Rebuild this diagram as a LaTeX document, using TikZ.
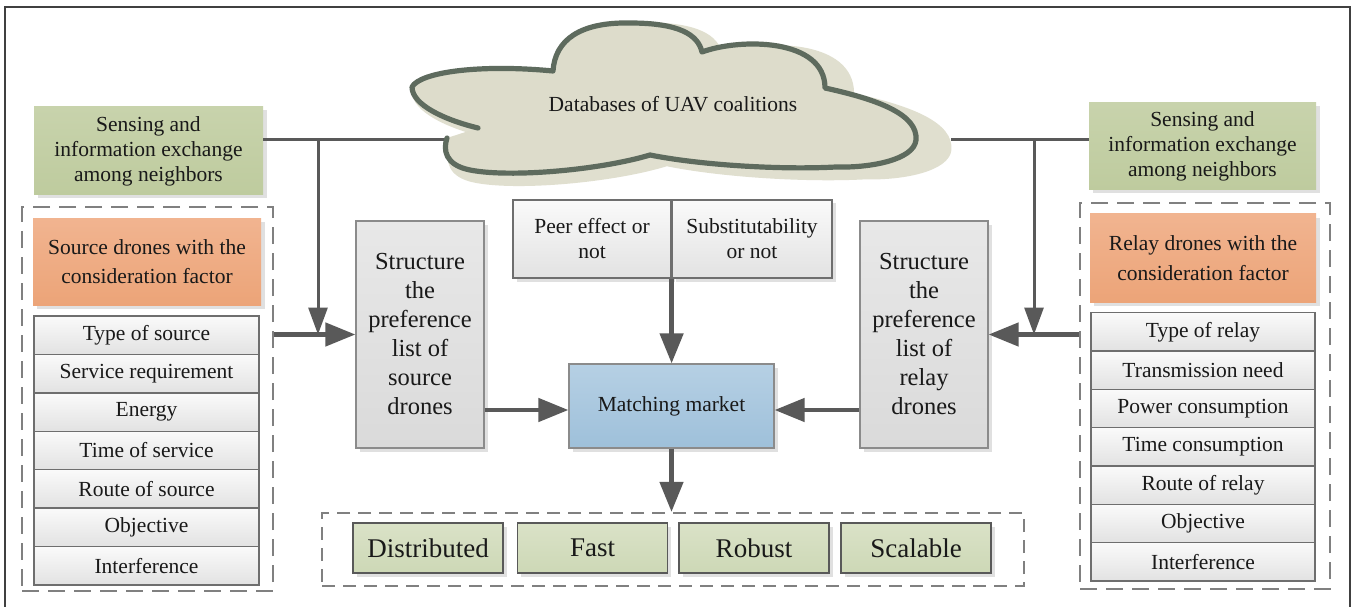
\documentclass[tikz,border=0pt]{standalone}
\usepackage{fontspec}
\setmainfont{Liberation Serif}
\usetikzlibrary{arrows.meta,shadows,calc}
\definecolor{gtop}{RGB}{200,211,172}
\definecolor{gbot}{RGB}{190,203,158}
\definecolor{otop}{RGB}{241,180,144}
\definecolor{obot}{RGB}{236,164,120}
\definecolor{itop}{RGB}{250,250,250}
\definecolor{ibot}{RGB}{226,226,226}
\definecolor{ptop}{RGB}{232,232,232}
\definecolor{pbot}{RGB}{218,218,218}
\definecolor{mtop}{RGB}{182,208,228}
\definecolor{mbot}{RGB}{158,192,218}
\definecolor{btop}{RGB}{218,226,199}
\definecolor{bbot}{RGB}{205,216,182}
\definecolor{cloudfill}{RGB}{221,220,203}
\definecolor{cloudshadow}{RGB}{224,223,207}
\definecolor{cloudline}{RGB}{94,107,94}
\definecolor{arrowgray}{RGB}{89,89,89}
\definecolor{dashgray}{RGB}{128,128,128}
\definecolor{edgegray}{RGB}{110,110,110}
\newcommand{\fsA}{\fontsize{21.5}{25}\selectfont}
\newcommand{\fsO}{\fontsize{21.5}{29.5}\selectfont}
\newcommand{\fsS}{\fontsize{24.5}{29}\selectfont}
\newcommand{\fsD}{\fontsize{27}{32}\selectfont}
\begin{document}
\begin{tikzpicture}[x=1pt,y=-1pt,
  myshadow/.style={general shadow={fill=black!12, shadow xshift=3.5pt, shadow yshift=-3.5pt}},
  base/.style={inner sep=0pt, align=center, text=black!90},
  greenbox/.style={base, font=\fsA, top color=gtop, bottom color=gbot, myshadow},
  orangebox/.style={base, font=\fsO, top color=otop, bottom color=obot, myshadow},
  itembox/.style={base, font=\fsA, top color=itop, bottom color=ibot, draw=edgegray, line width=1.3pt},
  prefbox/.style={base, font=\fsS, top color=ptop, bottom color=pbot, draw=edgegray!80, line width=1.2pt, myshadow},
  peerbox/.style={base, font=\fsA, top color=itop, bottom color=ibot, draw=edgegray, line width=1.2pt, myshadow},
  matchbox/.style={base, font=\fsA, top color=mtop, bottom color=mbot, draw=edgegray!80, line width=1.2pt, myshadow},
  propbox/.style={base, font=\fsD, top color=btop, bottom color=bbot, draw=black!65, line width=1.3pt, minimum width=150pt, minimum height=50pt, myshadow},
  dashbox/.style={draw=dashgray, line width=2.6pt, dash pattern=on 17pt off 9pt, inner sep=0pt},
  thinline/.style={draw=arrowgray, line width=3pt},
  thinarrow/.style={draw=arrowgray, line width=3pt, -{Triangle[length=27pt,width=19pt]}},
  bigarrow/.style={draw=arrowgray, line width=4.5pt, -{Triangle[length=30pt,width=23pt]}}
]
\useasboundingbox (0,0) rectangle (1353,607);
\fill[white] (0,0) rectangle (1353,607);
% outer frame
\draw[black!75, line width=1.4pt] (5,607) -- (5,7) -- (1350,7) -- (1350,607);

% connection coordinates on the cloud
\coordinate (cl) at (447,140);
\coordinate (cr) at (951,140);
\coordinate (jl) at (318,140);
\coordinate (jr) at (1034,140);
\coordinate (ya) at (0,410);

% dashed groups
\node[dashbox, minimum width=251pt, minimum height=384pt] (ldash) at (147.5,399) {};
\node[dashbox, minimum width=250pt, minimum height=386pt] (rdash) at (1205,396) {};
\node[dashbox, dash pattern=on 13pt off 8pt, line width=2.2pt, minimum width=702pt, minimum height=73pt] (bdash) at (673,549.5) {};

% sensing boxes
\node[greenbox, minimum width=229pt, minimum height=88pt] (lg) at (148.5,151) {Sensing and\\information exchange\\among neighbors};
\node[greenbox, minimum width=227pt, minimum height=87pt] (rg) at (1202.5,146.5) {Sensing and\\information exchange\\among neighbors};

% lines to the cloud (drawn under the cloud)
\draw[thinline] (lg.east |- cl) -- (cl);
\draw[thinline] (cr) -- (rg.west |- cr);

% cloud shadow
\begin{scope}[shift={(410,30)}, xscale=1.07, yscale=1.09, shift={(-410,-30)}]
\fill[cloudshadow] (412,87) .. controls (420,72) and (480,64) .. (553,71)
  .. controls (555,40) and (580,22) .. (630,23) .. controls (680,23) and (698,35) .. (702,52)
  .. controls (740,38) and (825,38) .. (825,88)
  .. controls (880,100) and (918,115) .. (916,140) .. controls (914,160) and (870,168) .. (836,167)
  .. controls (780,170) and (700,165) .. (650,155)
  .. controls (600,170) and (510,178) .. (470,170) .. controls (445,165) and (443,150) .. (447,138)
  -- (478,128) .. controls (445,120) and (412,105) .. (412,87) -- cycle;
\end{scope}
% cloud body
\fill[cloudfill] (412,87) .. controls (420,72) and (480,64) .. (553,71)
  .. controls (555,40) and (580,22) .. (630,23) .. controls (680,23) and (698,35) .. (702,52)
  .. controls (740,38) and (825,38) .. (825,88)
  .. controls (880,100) and (918,115) .. (916,140) .. controls (914,160) and (870,168) .. (836,167)
  .. controls (780,170) and (700,165) .. (650,155)
  .. controls (600,170) and (510,178) .. (470,170) .. controls (445,165) and (443,150) .. (447,138)
  -- (478,128) .. controls (445,120) and (412,105) .. (412,87) -- cycle;
\draw[cloudline, line width=5.2pt, line cap=round, line join=round]
  (478,128) .. controls (445,120) and (412,105) .. (412,87)
  .. controls (420,72) and (480,64) .. (553,71)
  .. controls (555,40) and (580,22) .. (630,23) .. controls (680,23) and (698,35) .. (702,52)
  .. controls (740,38) and (825,38) .. (825,88)
  .. controls (880,100) and (918,115) .. (916,140) .. controls (914,160) and (870,168) .. (836,167)
  .. controls (780,170) and (700,165) .. (650,155)
  .. controls (600,170) and (510,178) .. (470,170) .. controls (445,165) and (443,150) .. (447,138);
\node[base, font=\fsA] (cloud) at (673,104) {Databases of UAV coalitions};

% orange headers
\node[orangebox, minimum width=228pt, minimum height=87pt] (lo) at (147,261.5) {Source drones with the\\consideration factor};
\node[orangebox, minimum width=226pt, minimum height=88pt] (ro) at (1203,258) {Relay drones with the\\consideration factor};

% item lists
\foreach \t [count=\i from 0] in {Type of source, Service requirement, Energy, Time of service, Route of source, Objective, Interference}
  \node[itembox, minimum width=225pt, minimum height=38.4pt] (li\i) at (146.5, 335.2+38.43*\i) {\t};
\foreach \t [count=\i from 0] in {Type of relay, Transmission need, Power consumption, Time consumption, Route of relay, Objective, Interference}
  \node[itembox, minimum width=224pt, minimum height=38.3pt] (ri\i) at (1203, 331.9+38.3*\i) {\t};

% preference boxes
\node[prefbox, minimum width=128pt, minimum height=227pt] (lpref) at (420,334.5) {Structure\\the\\preference\\list of\\source\\drones};
\node[prefbox, minimum width=128pt, minimum height=227pt] (rpref) at (924,334.5) {Structure\\the\\preference\\list of\\relay\\drones};

% peer / substitutability
\node[peerbox, minimum width=158pt, minimum height=78pt] (peer) at (592,239) {Peer effect or\\not};
\node[peerbox, minimum width=160pt, minimum height=78pt] (subst) at (752,239) {Substitutability\\or not};

% matching market
\node[matchbox, minimum width=205pt, minimum height=84pt] (match) at (671.5,406) {Matching market};

% properties
\node[propbox] (pd) at (428,548) {Distributed};
\node[propbox] (pf) at (592.5,548) {Fast};
\node[propbox] (pr) at (754,548) {Robust};
\node[propbox] (ps) at (916,548) {Scalable};

% arrows
\draw[thinarrow] (jl) -- (jl |- lpref.west);
\draw[thinarrow] (jr) -- (jr |- rpref.east);
\draw[bigarrow] (ldash.east |- lpref.west) -- (lpref.west);
\draw[bigarrow] (rdash.west |- rpref.east) -- (rpref.east);
\draw[bigarrow] (peer.south east) -- (peer.south east |- match.north);
\draw[bigarrow] (lpref.east |- ya) -- (match.west |- ya);
\draw[bigarrow] (rpref.west |- ya) -- (match.east |- ya);
\draw[bigarrow] (match.south) -- (match.south |- bdash.north);
\end{tikzpicture}
\end{document}
